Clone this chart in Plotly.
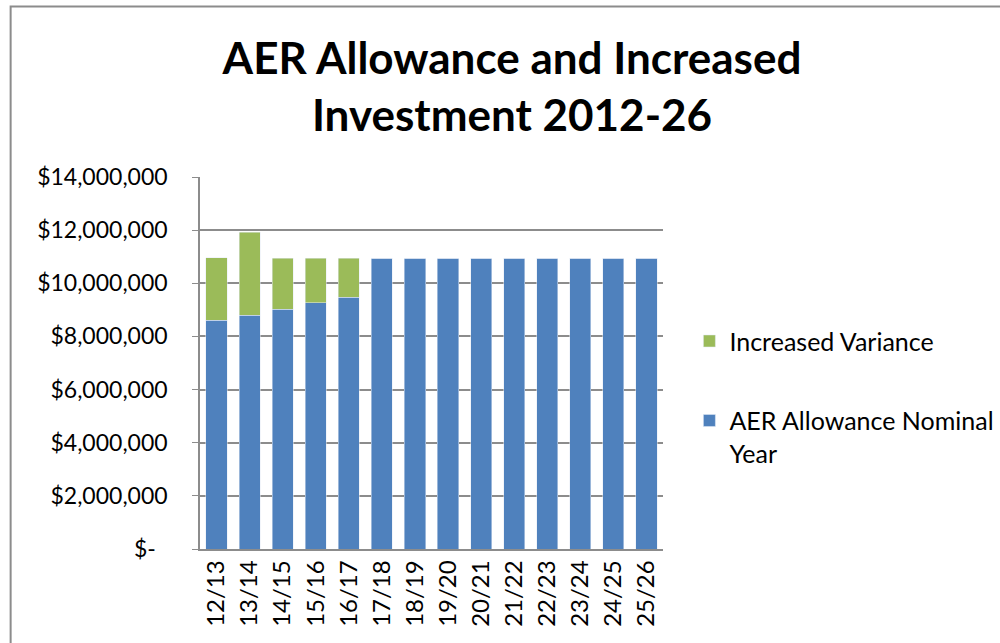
import plotly.graph_objects as go

categories = ["12/13", "13/14", "14/15", "15/16", "16/17", "17/18", "18/19",
              "19/20", "20/21", "21/22", "22/23", "23/24", "24/25", "25/26"]
aer_allowance = [8600000, 8790000, 9030000, 9260000, 9480000, 10950000, 10950000,
                 10950000, 10950000, 10950000, 10950000, 10950000, 10950000, 10950000]
increased_variance = [2370000, 3140000, 1920000, 1690000, 1470000, 0, 0,
                      0, 0, 0, 0, 0, 0, 0]
y_ticks = [0, 2000000, 4000000, 6000000, 8000000, 10000000, 12000000, 14000000]
y_tick_labels = ["$-\u00a0\u00a0", "$2,000,000", "$4,000,000", "$6,000,000", "$8,000,000",
                 "$10,000,000", "$12,000,000", "$14,000,000"]

font = "Lato, 'Open Sans', sans-serif"

fig = go.Figure()
fig.add_trace(go.Bar(x=categories, y=aer_allowance, name="AER Allowance Nominal<br>Year",
                     marker=dict(color="#4F81BD"), legendgroup="a", legendrank=2))
fig.add_trace(go.Bar(x=categories, y=increased_variance, name="Increased Variance",
                     marker=dict(color="#9BBB59"), legendgroup="b", legendrank=1))

fig.update_layout(
    barmode="stack",
    bargap=0.36,
    width=1000, height=643,
    margin=dict(l=200, r=337, t=177, b=94, autoexpand=False),
    paper_bgcolor="white", plot_bgcolor="white",
    font=dict(family=font, color="black"),
    title=dict(text="<b>AER Allowance and Increased<br>Investment 2012-26</b>",
               x=0.512, xanchor="center", y=0.885, yanchor="middle",
               font=dict(size=44, family=font, color="black")),
    legend=dict(x=1.057, xanchor="left", y=0.408, yanchor="middle",
                traceorder="grouped", tracegroupgap=44,
                valign="top", font=dict(size=25, family=font),
                itemwidth=30),
    showlegend=True,
)
fig.update_yaxes(range=[0, 14000000], tickvals=y_ticks, ticktext=y_tick_labels,
                 showgrid=True, gridcolor="#8c8c8c", gridwidth=1.5,
                 showline=True, linecolor="#8c8c8c", linewidth=1.5,
                 ticks="outside", ticklen=6, tickcolor="#8c8c8c",
                 ticklabelstandoff=20,
                 tickfont=dict(size=23, family=font), zeroline=False)
fig.update_xaxes(showline=True, linecolor="#8c8c8c", linewidth=1.5,
                 tickangle=-90, tickfont=dict(size=24, family=font),
                 ticks="", showgrid=False)
fig.add_shape(type="rect", xref="paper", yref="paper",
              x0=-0.409, x1=1.8, y0=-0.3, y1=1.458,
              line=dict(color="#8c8c8c", width=2))

fig.write_html("out.html")
